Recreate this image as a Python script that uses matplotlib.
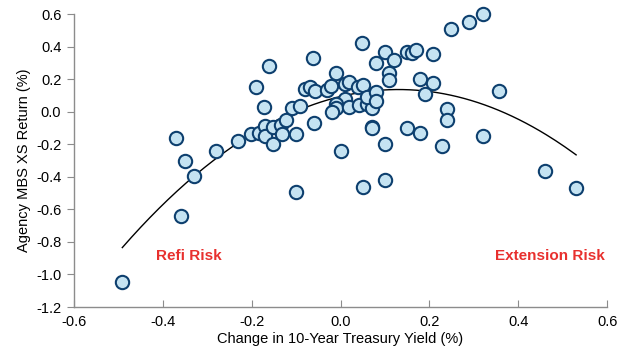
import numpy as np
import matplotlib.pyplot as plt

plt.rcParams['font.family'] = ['Liberation Sans', 'DejaVu Sans']

# monthly change in 10y yield vs agency MBS excess return
yield_chg = [
    -0.491, -0.371, -0.351, -0.330, -0.360, -0.281, -0.231, -0.201, -0.183, -0.191,
    -0.172, -0.161, -0.170, -0.170, -0.152, -0.152, -0.133, -0.122, -0.132, -0.101,
    -0.110, -0.091, -0.101, -0.080, -0.069, -0.058, -0.061, -0.060, -0.031, -0.021,
    -0.011, 0.010, 0.020, 0.040, 0.050, 0.049, 0.010, -0.010, -0.011, -0.020,
    0.019, 0.041, 0.059, 0.070, 0.059, 0.080, 0.080, 0.000, 0.050, 0.070,
    0.070, 0.100, 0.079, 0.120, 0.109, 0.109, 0.100, 0.100, 0.149, 0.160,
    0.170, 0.149, 0.179, 0.179, 0.208, 0.208, 0.190, 0.240, 0.240, 0.229,
    0.249, 0.289, 0.320, 0.320, 0.357, 0.460, 0.530,
]
mbs_xs = [
    -1.044, -0.161, -0.302, -0.392, -0.640, -0.240, -0.179, -0.139, -0.127, 0.151,
    0.032, 0.282, -0.090, -0.151, -0.091, -0.200, -0.081, -0.050, -0.136, -0.136,
    0.021, 0.033, -0.491, 0.141, 0.151, 0.129, 0.331, -0.068, 0.132, 0.159,
    0.241, 0.172, 0.186, 0.153, 0.164, 0.422, 0.081, 0.051, 0.022, 0.001,
    0.030, 0.041, 0.049, 0.021, 0.092, 0.124, 0.065, -0.240, -0.462, -0.091,
    -0.102, 0.370, 0.303, 0.321, 0.242, 0.196, -0.197, -0.419, 0.370, 0.360,
    0.381, -0.102, -0.129, 0.200, 0.356, 0.176, 0.108, 0.015, -0.050, -0.210,
    0.510, 0.551, 0.602, -0.148, 0.130, -0.363, -0.470,
]

x_ticks = [-0.6, -0.4, -0.2, 0.0, 0.2, 0.4, 0.6]
y_ticks = [-1.2, -1.0, -0.8, -0.6, -0.4, -0.2, 0.0, 0.2, 0.4, 0.6]

x = np.array(yield_chg)
y = np.array(mbs_xs)

fig = plt.figure(figsize=(6.26, 3.57), dpi=100)
ax = fig.add_axes([0.118, 0.140, 0.852, 0.820])

# quadratic trend
coef = np.polyfit(x, y, 2)
xs = np.linspace(x.min(), x.max(), 200)
ax.plot(xs, np.polyval(coef, xs), color='black', lw=1.0, zorder=2)

ax.scatter(x, y, s=92, facecolor='#c5e3f2', edgecolor='#0d3f6e',
           linewidths=1.5, zorder=3, clip_on=False)

ax.set_xlim(-0.6, 0.6)
ax.set_ylim(-1.2, 0.6)
ax.set_xticks(x_ticks)
ax.set_yticks(y_ticks)
ax.set_xticklabels([f'{v:.1f}' for v in x_ticks])
ax.set_yticklabels([f'{v:.1f}' for v in y_ticks])

for s in ['top', 'right']:
    ax.spines[s].set_visible(False)
for s in ['left', 'bottom']:
    ax.spines[s].set_color('#8c8c8c')
    ax.spines[s].set_linewidth(1.0)
ax.tick_params(axis='x', direction='in', length=5, color='#8c8c8c',
               labelsize=10.5, pad=6)
ax.tick_params(axis='y', direction='out', length=5, color='#8c8c8c',
               labelsize=10.5, pad=4)

ax.set_xlabel('Change in 10-Year Treasury Yield (%)', fontsize=10.5, labelpad=2)
ax.set_ylabel('Agency MBS XS Return (%)', fontsize=10.5, labelpad=4)

ax.text(-0.342, -0.886, 'Refi Risk', color='#e8302e', fontsize=11,
        fontweight='bold', ha='center', va='center')
ax.text(0.472, -0.886, 'Extension Risk', color='#e8302e', fontsize=11,
        fontweight='bold', ha='center', va='center')

fig.savefig('out.png', dpi=100)
